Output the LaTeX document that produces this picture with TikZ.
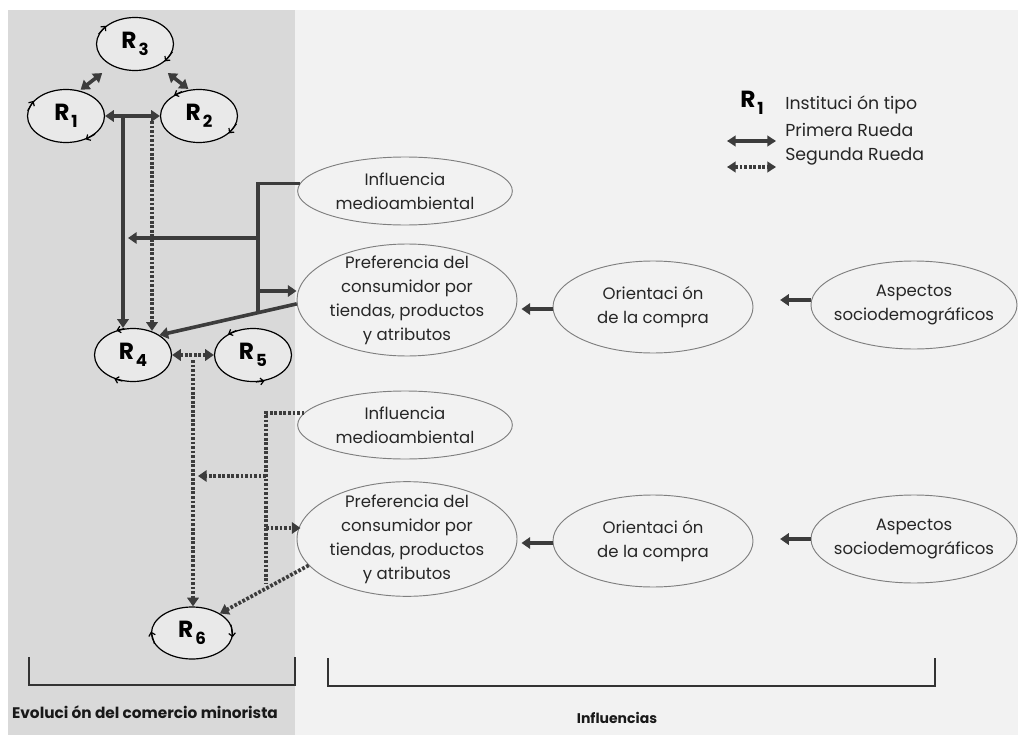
\documentclass[tikz,border=0pt]{standalone}
\usepackage{fontspec}
\setmainfont{Poppins}
\usetikzlibrary{shapes.geometric,arrows.meta,calc}

\definecolor{panelL}{HTML}{D9D9D9}
\definecolor{panelR}{HTML}{F2F2F2}
\definecolor{rfill}{HTML}{E9E9E9}
\definecolor{ink}{HTML}{3C3C3C}
\definecolor{rim}{HTML}{7F7F7F}

% bold R with its index, as used for the institution types
\newcommand\rlab[1]{{\fontsize{17.5}{17.5}\selectfont\bfseries R\kern1.5pt\raisebox{-5pt}{\fontsize{12.5}{12.5}\selectfont\bfseries #1}}}

\begin{document}
\begin{tikzpicture}[x=0.75pt,y=0.75pt,
  rnode/.style={ellipse, draw=black, line width=0.9pt, fill=rfill,
    minimum width=57.75pt, minimum height=39.75pt, inner sep=0pt},
  bignode/.style={ellipse, draw=rim, line width=0.7pt, fill=panelR,
    align=center, inner xsep=-8pt, inner ysep=-9pt, text=black!85,
    font=\fontsize{12.4}{18}\selectfont},
  solidln/.style={draw=ink, line width=2.7pt},
  dotln/.style={draw=ink, line width=2.8pt, dash pattern=on 2.1pt off 1.3pt},
  tip/.style={-{Triangle[width=8.5pt,length=6.5pt]}},
  dtip/.style={{Triangle[width=8.5pt,length=6.5pt]}-{Triangle[width=8.5pt,length=6.5pt]}},
  rotmark/.style={draw=black, line width=0.9pt, -{Straight Barb[length=2.5pt,width=5pt]}},
  bracket/.style={draw=black!80, line width=0.9pt},
  boldlab/.style={font=\fontsize{11.5}{13}\selectfont\bfseries, text=black!90},
  legtxt/.style={anchor=west, font=\fontsize{13}{15}\selectfont, text=black!85, inner sep=0pt}]

\useasboundingbox (0,0) rectangle (1018,-735);
\fill[white] (0,0) rectangle (1018,-735);
\fill[panelL] (8,-10) rectangle (295,-735);
\fill[panelR] (295,-10) rectangle (1018,-735);

% institution types
\node[rnode] (r3) at (135,-44)  {\rlab{3}};
\node[rnode] (r1) at (66,-116)  {\rlab{1}};
\node[rnode] (r2) at (199,-116) {\rlab{2}};
\node[rnode] (r4) at (133,-355) {\rlab{4}};
\node[rnode] (r5) at (253,-355) {\rlab{5}};
\node[rnode, minimum width=60.75pt, minimum height=39pt] (r6) at (192,-633) {\rlab{6}};

% rotation marks on the institution ellipses
\draw[rotmark] (r3.165) -- (r3.148);
\draw[rotmark] (r3.-12) -- (r3.-30);
\draw[rotmark] (r1.172) -- (r1.155);
\draw[rotmark] (r1.-32) -- (r1.-50);
\draw[rotmark] (r2.125) -- (r2.140);
\draw[rotmark] (r2.-12) -- (r2.-30);
\draw[rotmark] (r4.108) -- (r4.124);
\draw[rotmark] (r4.248) -- (r4.232);
\draw[rotmark] (r5.124) -- (r5.140);
\draw[rotmark] (r5.-84) -- (r5.-66);
\draw[rotmark] (r6.196) -- (r6.178);
\draw[rotmark] (r6.12) -- (r6.-6);

% influences, upper group
\node[bignode, minimum width=161pt, minimum height=51pt] (inf1) at (405,-191)
  {Influencia\\medioambiental};
\node[bignode, minimum width=165pt, minimum height=84pt] (pref1) at (407,-300)
  {Preferencia del\\consumidor por\\tiendas, productos\\y atributos};
\node[bignode, minimum width=150pt, minimum height=69pt] (ori1) at (653,-307)
  {Orientaci ón\\de la compra};
\node[bignode, minimum width=154.5pt, minimum height=66pt] (asp1) at (914,-305)
  {Aspectos\\sociodemográficos};

% influences, lower group
\node[bignode, minimum width=161pt, minimum height=51pt] (inf2) at (405,-425)
  {Influencia\\medioambiental};
\node[bignode, minimum width=165pt, minimum height=86pt] (pref2) at (407,-539)
  {Preferencia del\\consumidor por\\tiendas, productos\\y atributos};
\node[bignode, minimum width=150pt, minimum height=69pt] (ori2) at (653,-541)
  {Orientaci ón\\de la compra};
\node[bignode, minimum width=154.5pt, minimum height=66pt] (asp2) at (914,-539)
  {Aspectos\\sociodemográficos};

% links between the first three institutions
\draw[solidln, dtip, shorten <=1pt, shorten >=9pt] (r1.62) -- (r3.223);
\draw[solidln, dtip, shorten <=9pt, shorten >=1pt] (r3.317) -- (r2.110);
\draw[solidln, dtip] (r1.east) -- (r2.west);

% first wheel and second wheel down to R4
\coordinate (j1) at (123,-116);
\coordinate (j2) at (152,-121);
\draw[solidln, tip] (j1) -- (j1 |- r4.north);
\draw[dotln, tip] (j2) -- ($(j2 |- r4.north)+(0,-3)$);

% second wheel from R4 to R5 and R6
\draw[dotln, dtip] (r4.east) -- (r5.west);
\coordinate (j3) at (193,-360);
\draw[dotln, tip] (j3) -- (j3 |- r6.north);

% upper group of influences acting on the first wheel
\coordinate (sb) at (258,-313);
\coordinate (a1) at (128,-238);
\coordinate (p1) at (258,-291);
\draw[solidln] (inf1.176) -- (inf1.176 -| sb) -- (sb);
\draw[solidln, tip] (a1 -| sb) -- (a1);
\draw[solidln, tip] (p1) -- (p1 -| pref1.west);
\draw[solidln, tip] (pref1.182) -- (r4.37);

% lower group of influences acting on the second wheel
\coordinate (db) at (266,-583);
\coordinate (a2) at (198,-476);
\coordinate (p2) at (266,-528);
\draw[dotln] (inf2.173) -- (inf2.173 -| db) -- (db);
\draw[dotln, tip] (a2 -| db) -- (a2);
\draw[dotln, tip] (p2) -- ($(p2 -| pref2.west)+(4,0)$);
\draw[dotln, tip] (pref2.195) -- (r6.35);

% chains of influence
\draw[solidln, tip, shorten >=3pt] (ori1.west |- 0,-309) -- (pref1.east |- 0,-309);
\draw[solidln, tip, shorten >=20pt] (asp1.west |- 0,-300) -- (ori1.east |- 0,-300);
\draw[solidln, tip, shorten >=3pt] (ori2.west |- 0,-543) -- (pref2.east |- 0,-543);
\draw[solidln, tip, shorten >=20pt] (asp2.west |- 0,-539) -- (ori2.east |- 0,-539);

% legend
\node (legr) at (752,-103) {\rlab{1}};
\node[legtxt] (leg1) at (785,-105) {Instituci ón tipo};
\node[legtxt] (leg2) at (785,-130) {Primera Rueda};
\node[legtxt] (leg3) at (785,-156) {Segunda Rueda};
\coordinate (la) at (727,-141);
\coordinate (lb) at (776,-141);
\coordinate (lc) at (727,-167);
\coordinate (ld) at (776,-167);
\draw[solidln, line width=2.4pt, {Triangle[width=8pt,length=6.5pt]}-{Triangle[width=8pt,length=6.5pt]}] (la) -- (lb);
\draw[dotln, line width=2.4pt, {Triangle[width=8pt,length=6.5pt]}-{Triangle[width=8pt,length=6.5pt]}] (lc) -- (ld);

% brackets and captions
\draw[bracket] (29,-657) -- (29,-685) -- (295,-685) -- (295,-657);
\draw[bracket] (328,-658) -- (328,-686) -- (935,-686) -- (935,-658);
\node[boldlab] (evo) at (145,-712) {Evoluci ón del comercio minorista};
\node[boldlab, font=\fontsize{10.5}{13}\selectfont\bfseries] (infl) at (617,-718) {Influencias};

\end{tikzpicture}
\end{document}
